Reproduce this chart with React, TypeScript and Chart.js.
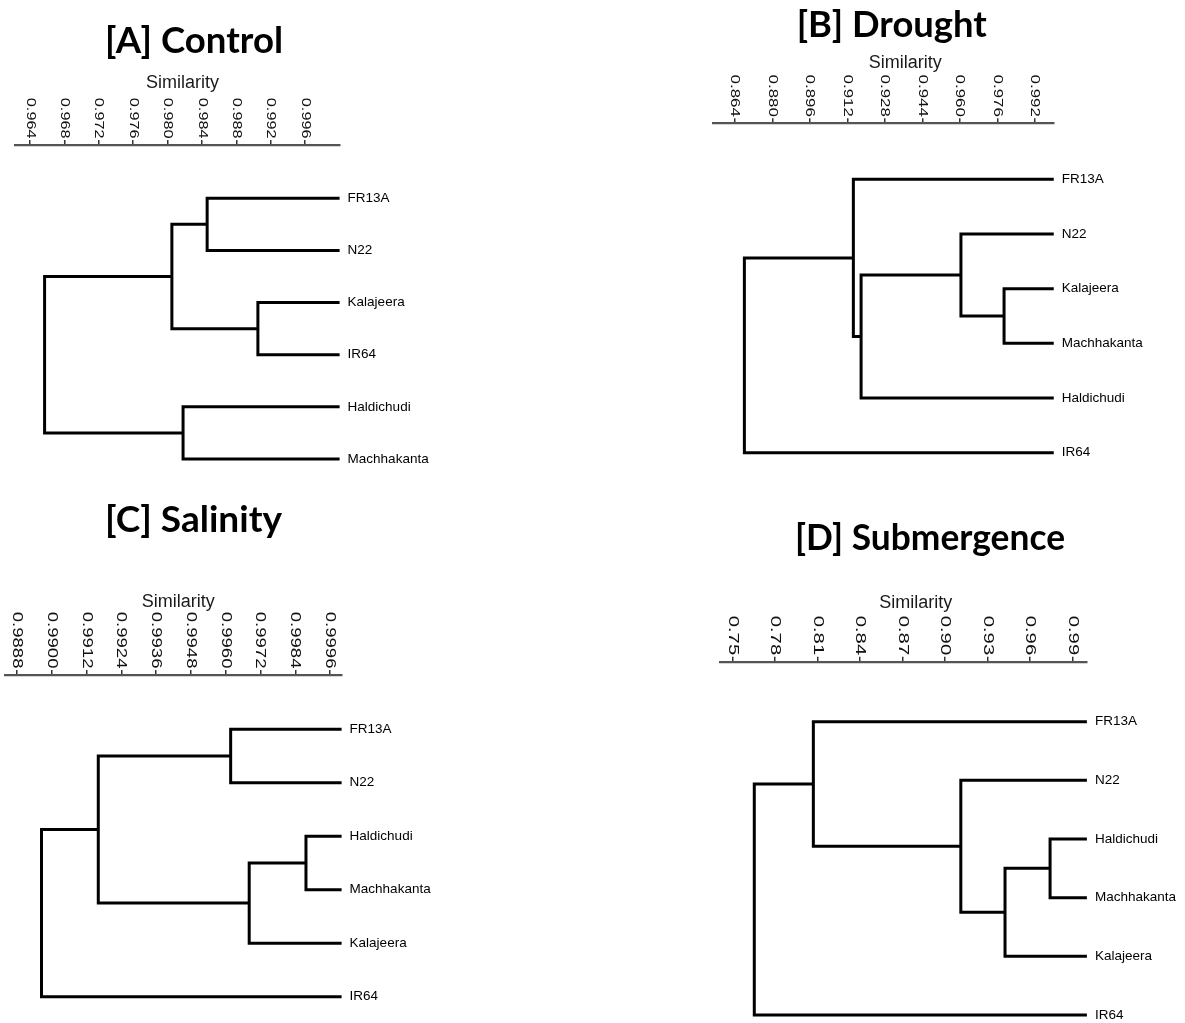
import React, { useEffect, useRef } from 'react';
import { Chart, registerables } from 'chart.js';

Chart.register(...registerables);

// ---------------- data ----------------
// merges: [childA, childB, similarity]; indices 0..5 are leaves, 6+ refer to earlier merges
const LEAF_SIMILARITY = 1.0;

const controlLeaves = ['FR13A', 'N22', 'Kalajeera', 'IR64', 'Haldichudi', 'Machhakanta'];
const controlMerges: [number, number, number][] = [
  [0, 1, 0.9846],
  [2, 3, 0.9905],
  [6, 7, 0.9805],
  [4, 5, 0.9818],
  [8, 9, 0.9657],
];
const controlTicks = [0.964, 0.968, 0.972, 0.976, 0.98, 0.984, 0.988, 0.992, 0.996];

const droughtLeaves = ['FR13A', 'N22', 'Kalajeera', 'Machhakanta', 'Haldichudi', 'IR64'];
const droughtMerges: [number, number, number][] = [
  [2, 3, 0.9788],
  [1, 6, 0.9604],
  [7, 4, 0.9178],
  [0, 8, 0.9145],
  [9, 5, 0.868],
];
const droughtTicks = [0.864, 0.88, 0.896, 0.912, 0.928, 0.944, 0.96, 0.976, 0.992];

const salinityLeaves = ['FR13A', 'N22', 'Haldichudi', 'Machhakanta', 'Kalajeera', 'IR64'];
const salinityMerges: [number, number, number][] = [
  [0, 1, 0.99617],
  [2, 3, 0.99877],
  [7, 4, 0.99681],
  [6, 8, 0.9916],
  [9, 5, 0.98964],
];
const salinityTicks = [0.9888, 0.99, 0.9912, 0.9924, 0.9936, 0.9948, 0.996, 0.9972, 0.9984, 0.9996];

const submergenceLeaves = ['FR13A', 'N22', 'Haldichudi', 'Machhakanta', 'Kalajeera', 'IR64'];
const submergenceMerges: [number, number, number][] = [
  [2, 3, 0.974],
  [6, 4, 0.9422],
  [1, 7, 0.911],
  [0, 8, 0.8069],
  [9, 5, 0.7652],
];
const submergenceTicks = [0.75, 0.78, 0.81, 0.84, 0.87, 0.9, 0.93, 0.96, 0.99];

// ---------------- layout / style ----------------
const TICK_LEN = 5;
const FONT = '"Liberation Sans", Arial, sans-serif';

const panels = [
  {
    key: 'A', title: '[A] Control', leaves: controlLeaves, merges: controlMerges, ticks: controlTicks, decimals: 3,
    box: { left: 0, top: 0, width: 592, height: 490 },
    area: { left: 15, right: 339.6, top: 145, bottom: 482 }, xMin: 0.96226,
    leafTop: 198.3, leafGap: 52.14,
    titlePos: { x: 105, y: 52.5, width: 178 }, simPos: { x: 182.5, y: 88.3 },
    tickFont: 12.5, tickStretch: 1.3, labelFont: 13.5,
  },
  {
    key: 'B', title: '[B] Drought', leaves: droughtLeaves, merges: droughtMerges, ticks: droughtTicks, decimals: 3,
    box: { left: 592, top: 0, width: 593, height: 490 },
    area: { left: 713.3, right: 1053.75, top: 123.3, bottom: 478 }, xMin: 0.85474,
    leafTop: 179.3, leafGap: 54.68,
    titlePos: { x: 796.7, y: 36.7, width: 190 }, simPos: { x: 905.3, y: 68.3 },
    tickFont: 13.5, tickStretch: 1.25, labelFont: 13.5,
  },
  {
    key: 'C', title: '[C] Salinity', leaves: salinityLeaves, merges: salinityMerges, ticks: salinityTicks, decimals: 4,
    box: { left: 0, top: 490, width: 592, height: 533 },
    area: { left: 5, right: 341.6, top: 675, bottom: 1012 }, xMin: 0.98838,
    leafTop: 729.3, leafGap: 53.48,
    titlePos: { x: 105, y: 531.7, width: 177 }, simPos: { x: 178.3, y: 606.7 },
    tickFont: 14.5, tickStretch: 1.28, labelFont: 13.5,
  },
  {
    key: 'D', title: '[D] Submergence', leaves: submergenceLeaves, merges: submergenceMerges, ticks: submergenceTicks, decimals: 2,
    box: { left: 592, top: 490, width: 593, height: 533 },
    area: { left: 720, right: 1086.9, top: 661.7, bottom: 1018 }, xMin: 0.741,
    leafTop: 721.7, leafGap: 58.66,
    titlePos: { x: 795, y: 550, width: 270 }, simPos: { x: 915.8, y: 608.3 },
    tickFont: 14.5, tickStretch: 1.4, labelFont: 13.5,
  },
];

type Pt = { x: number; y: number };

function buildLinks(leaves: string[], merges: [number, number, number][]): Pt[][] {
  const pos: Pt[] = leaves.map((_, i) => ({ x: LEAF_SIMILARITY, y: i }));
  return merges.map(([a, b, s]) => {
    const A = pos[a];
    const B = pos[b];
    pos.push({ x: s, y: (A.y + B.y) / 2 });
    return [
      { x: A.x, y: A.y },
      { x: s, y: A.y },
      { x: s, y: B.y },
      { x: B.x, y: B.y },
    ];
  });
}

function Panel({ cfg }: { cfg: (typeof panels)[number] }) {
  const ref = useRef<HTMLCanvasElement>(null);
  useEffect(() => {
    const canvas = ref.current!;
    const { box, area } = cfg;
    const links = buildLinks(cfg.leaves, cfg.merges);
    const yMin = (area.top - cfg.leafTop) / cfg.leafGap;
    const yMax = (area.bottom - cfg.leafTop) / cfg.leafGap;

    const textPlugin = {
      id: 'panelText' + cfg.key,
      afterDraw(chart: any) {
        const ctx: CanvasRenderingContext2D = chart.ctx;
        const xs = chart.scales.x;
        ctx.save();
        // panel title
        ctx.font = `bold 37px Lato, "Open Sans", sans-serif`;
        ctx.fillStyle = '#000';
        ctx.textAlign = 'left';
        ctx.textBaseline = 'alphabetic';
        const w = ctx.measureText(cfg.title).width;
        ctx.save();
        ctx.translate(cfg.titlePos.x - box.left, cfg.titlePos.y - box.top);
        ctx.scale(cfg.titlePos.width / w, 1);
        ctx.fillText(cfg.title, 0, 0);
        ctx.restore();
        // axis title
        ctx.font = `18px ${FONT}`;
        ctx.fillStyle = '#1a1a1a';
        ctx.textAlign = 'center';
        ctx.fillText('Similarity', cfg.simPos.x - box.left, cfg.simPos.y - box.top);
        // rotated tick labels
        ctx.font = `${cfg.tickFont}px ${FONT}`;
        ctx.fillStyle = '#111';
        ctx.textAlign = 'right';
        ctx.textBaseline = 'middle';
        const anchorY = chart.chartArea.top - TICK_LEN - 1.5;
        xs.ticks.forEach((t: any) => {
          const px = xs.getPixelForValue(t.value);
          ctx.save();
          ctx.translate(px, anchorY);
          ctx.rotate(Math.PI / 2);
          ctx.scale(cfg.tickStretch, 1);
          ctx.fillText(t.value.toFixed(cfg.decimals), 0, 0);
          ctx.restore();
        });
        ctx.restore();
      },
    };

    const chart = new Chart(canvas, {
      type: 'scatter',
      data: {
        datasets: links.map((pts) => ({
          data: pts,
          showLine: true,
          borderColor: '#000',
          borderWidth: 3,
          borderCapStyle: 'butt' as const,
          borderJoinStyle: 'miter' as const,
          pointRadius: 0,
          pointHoverRadius: 0,
          tension: 0,
          fill: false,
          clip: false as any,
        })),
      },
      options: {
        animation: false,
        responsive: false,
        events: [],
        layout: {
          padding: {
            left: area.left - box.left,
            right: 0,
            top: area.top - box.top - TICK_LEN,
            bottom: box.top + box.height - area.bottom,
          },
        },
        plugins: { legend: { display: false }, tooltip: { enabled: false }, title: { display: false } },
        scales: {
          x: {
            type: 'linear',
            position: 'top',
            min: cfg.xMin,
            max: LEAF_SIMILARITY,
            afterBuildTicks: (s: any) => {
              s.ticks = cfg.ticks.map((v) => ({ value: v }));
            },
            afterFit: (s: any) => {
              s.paddingLeft = 0;
              s.paddingRight = 0;
            },
            ticks: { display: false },
            grid: {
              display: true,
              drawOnChartArea: false,
              drawTicks: true,
              tickLength: TICK_LEN,
              color: '#333',
              lineWidth: 1.5,
            },
            border: { display: true, color: '#555', width: 2.2 },
            title: { display: false },
          },
          y: {
            type: 'linear',
            position: 'right',
            reverse: true,
            min: yMin,
            max: yMax,
            afterBuildTicks: (s: any) => {
              s.ticks = cfg.leaves.map((_, i) => ({ value: i }));
            },
            afterFit: (s: any) => {
              s.width = box.left + box.width - area.right;
              s.paddingTop = 0;
              s.paddingBottom = 0;
            },
            ticks: {
              autoSkip: false,
              padding: 8,
              color: '#000',
              font: { family: FONT, size: cfg.labelFont },
              callback: (v: any) => cfg.leaves[v as number] ?? '',
            },
            grid: { display: false, drawTicks: false },
            border: { display: false },
          },
        },
      },
      plugins: [textPlugin],
    } as any);
    return () => chart.destroy();
  }, [cfg]);

  const { box } = cfg;
  return (
    <canvas
      ref={ref}
      width={box.width}
      height={box.height}
      style={{ position: 'absolute', left: box.left, top: box.top, width: box.width, height: box.height }}
    />
  );
}

export default function App() {
  return (
    <div style={{ position: 'absolute', left: 0, top: 0, width: 1185, height: 1023, background: '#fff', overflow: 'hidden' }}>
      {panels.map((p) => (
        <Panel key={p.key} cfg={p} />
      ))}
    </div>
  );
}
